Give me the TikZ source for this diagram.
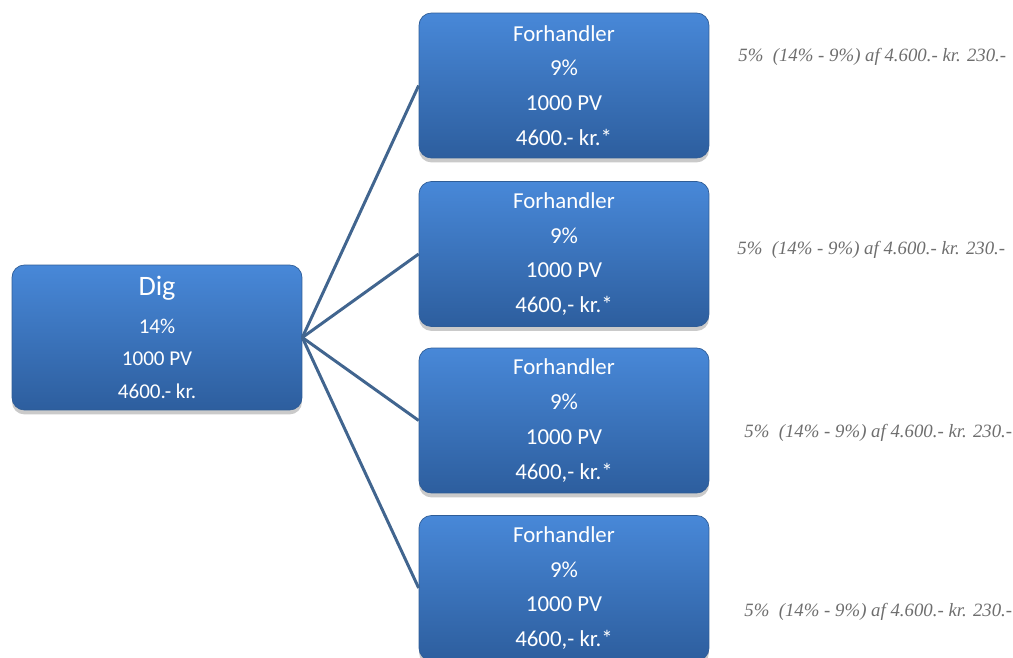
\documentclass[tikz,border=0pt]{standalone}
\usepackage{fontspec}
\setmainfont{Carlito}
\newfontfamily\notefont{Liberation Serif}
\usepackage{xcolor}
\usetikzlibrary{shadows,positioning}

\definecolor{boxtop}{HTML}{4888D8}
\definecolor{boxbot}{HTML}{2D5E9E}
\definecolor{boxline}{HTML}{2F5D97}
\definecolor{linkblue}{HTML}{41658F}
\definecolor{notegray}{HTML}{6E6E6E}

\newcommand{\punkt}{.}
\newcommand{\komma}{,}

\begin{document}
\begin{tikzpicture}[x=0.02cm,y=-0.02cm,
    box/.style={rounded corners=7pt, minimum width=5.8cm, minimum height=2.9cm,
        top color=boxtop, bottom color=boxbot, draw=boxline, line width=.4pt,
        text=white, align=center, inner sep=0pt,
        drop shadow={shadow xshift=0pt, shadow yshift=-2.5pt, opacity=.35, fill=black!60}},
    link/.style={draw=linkblue, line width=1.7pt},
    note/.style={text=notegray, anchor=west, inner sep=0pt,
        font=\notefont\itshape\fontsize{10.7}{12}\selectfont}]
\useasboundingbox (0,0) rectangle (1013,658);

\node[box, font=\fontsize{12}{18.7}\selectfont] (dig) at (157,337.5)
    {{\fontsize{16}{19}\selectfont Dig}\\[2.8pt] 14\%\\ 1000 PV\\ 4600.- kr.};

\foreach \y/\tegn [count=\i] in {85.5/\punkt, 254/\komma, 420.5/\komma, 588/\komma}{
    \node[box, font=\fontsize{13}{19.8}\selectfont] (f\i) at (564,\y)
        {Forhandler\\ 9\%\\ 1000 PV\\ 4600\tegn- kr.*};
    \draw[link] (dig.east) -- (f\i.west);
}

% forskel i provision
\foreach \x/\y [count=\i] in {738/57, 737/250, 744/433, 744/612}{
    \node[note] (n\i) at (\x,\y) {5\%~ (14\% - 9\%) af 4.600.- kr. 230.-};
}
\end{tikzpicture}
\end{document}
